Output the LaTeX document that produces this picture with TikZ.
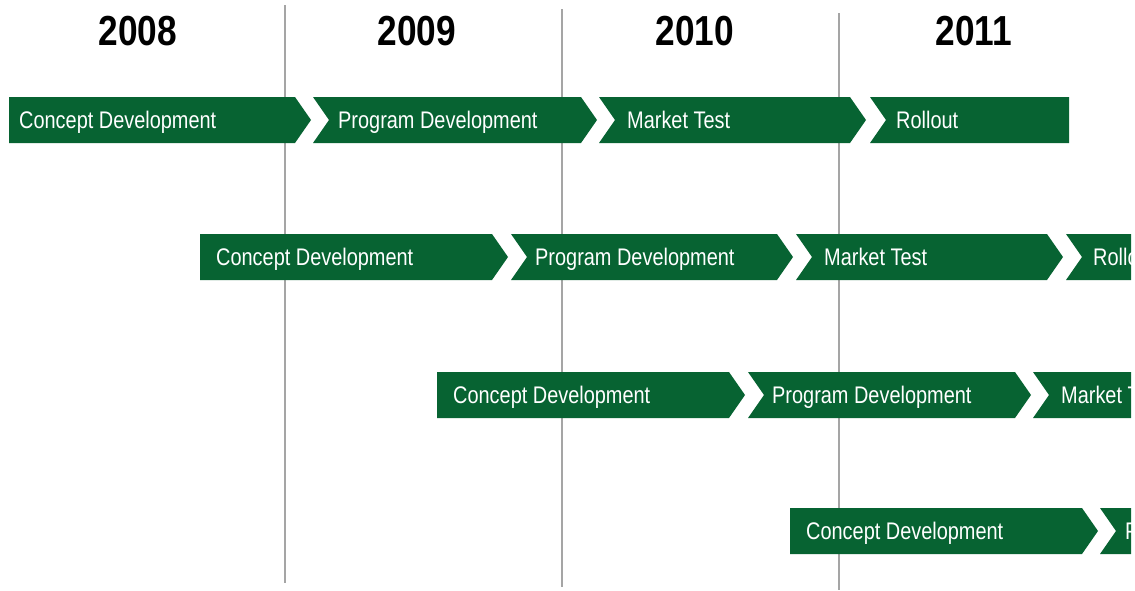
\documentclass[tikz,border=0pt]{standalone}
\usepackage{fontspec}
\newfontfamily\condfont{Liberation Sans}[FakeStretch=0.83]
\newfontfamily\yearfont{Liberation Sans}[FakeStretch=0.84,FakeBold=0]
\definecolor{phasegreen}{RGB}{7,99,50}
\definecolor{gridgray}{RGB}{165,165,165}
\tikzset{
  phase/.style={fill=phasegreen,draw=none},
  phaselabel/.style={anchor=base west,inner sep=0pt,text=white,font=\condfont\fontsize{24}{24}\selectfont},
  yearlabel/.style={anchor=base,inner sep=0pt,text=black,font=\yearfont\bfseries\fontsize{42}{42}\selectfont},
  yearline/.style={draw=gridgray,line width=1.2pt}
}
% \chevL{left}{right}{top}{bottom}{mid}: no notch, tip
% \chevN{left}{right}{top}{bottom}{mid}: notch and tip
\newcommand\chevL[5]{\path[phase] (#1,#3) -- (#2,#3) -- ({#2+16},#5) -- (#2,#4) -- (#1,#4) -- cycle;}
\newcommand\chevN[5]{\path[phase] (#1,#3) -- (#2,#3) -- ({#2+16},#5) -- (#2,#4) -- (#1,#4) -- ({#1+16},#5) -- cycle;}
\newcommand\chevE[5]{\path[phase] (#1,#3) -- (#2,#3) -- (#2,#4) -- (#1,#4) -- ({#1+16},#5) -- cycle;}
\begin{document}
\begin{tikzpicture}[x=1pt,y=-1pt]
\useasboundingbox (0,0) rectangle (1135,590);
% year grid lines
\coordinate (l1t) at (285,5);   \coordinate (l1b) at (285,583);
\coordinate (l2t) at (562,9);   \coordinate (l2b) at (562,587);
\coordinate (l3t) at (839,13);  \coordinate (l3b) at (839,590);
\draw[yearline] (l1t) -- (l1b);
\draw[yearline] (l2t) -- (l2b);
\draw[yearline] (l3t) -- (l3b);
% years
\node[yearlabel] (y2008) at (138,45) {2008};
\node[yearlabel] (y2009) at (417,45) {2009};
\node[yearlabel] (y2010) at (695,45) {2010};
\node[yearlabel] (y2011) at (974,45) {2011};
\begin{scope}
\clip (0,0) rectangle (1131,590);
% row 1
\chevL{9}{295}{97}{143}{120}
\chevN{313}{581}{97}{143}{120}
\chevN{599}{850}{97}{143}{120}
\chevE{870}{1069}{97}{143}{120}
\node[phaselabel] (r1c) at (19,128.5) {Concept Development};
\node[phaselabel] (r1p) at (338,128.5) {Program Development};
\node[phaselabel] (r1m) at (627,128.5) {Market Test};
\node[phaselabel] (r1r) at (896,128.5) {Rollout};
% row 2
\chevL{200}{492}{234}{280}{257}
\chevN{511}{777}{234}{280}{257}
\chevN{796}{1047}{234}{280}{257}
\chevE{1066}{1200}{234}{280}{257}
\node[phaselabel] (r2c) at (216,265.5) {Concept Development};
\node[phaselabel] (r2p) at (535,265.5) {Program Development};
\node[phaselabel] (r2m) at (824,265.5) {Market Test};
\node[phaselabel] (r2r) at (1093,265.5) {Rollout};
% row 3
\chevL{437}{729}{372}{418}{395}
\chevN{748}{1015}{372}{418}{395}
\chevE{1033}{1200}{372}{418}{395}
\node[phaselabel] (r3c) at (453,403.5) {Concept Development};
\node[phaselabel] (r3p) at (772,403.5) {Program Development};
\node[phaselabel] (r3m) at (1061,403.5) {Market Test};
% row 4
\chevL{790}{1082}{508}{554}{531}
\chevE{1100}{1200}{508}{554}{531}
\node[phaselabel] (r4c) at (806,539.5) {Concept Development};
\node[phaselabel] (r4p) at (1125,539.5) {Program Development};
\end{scope}
\end{tikzpicture}
\end{document}
